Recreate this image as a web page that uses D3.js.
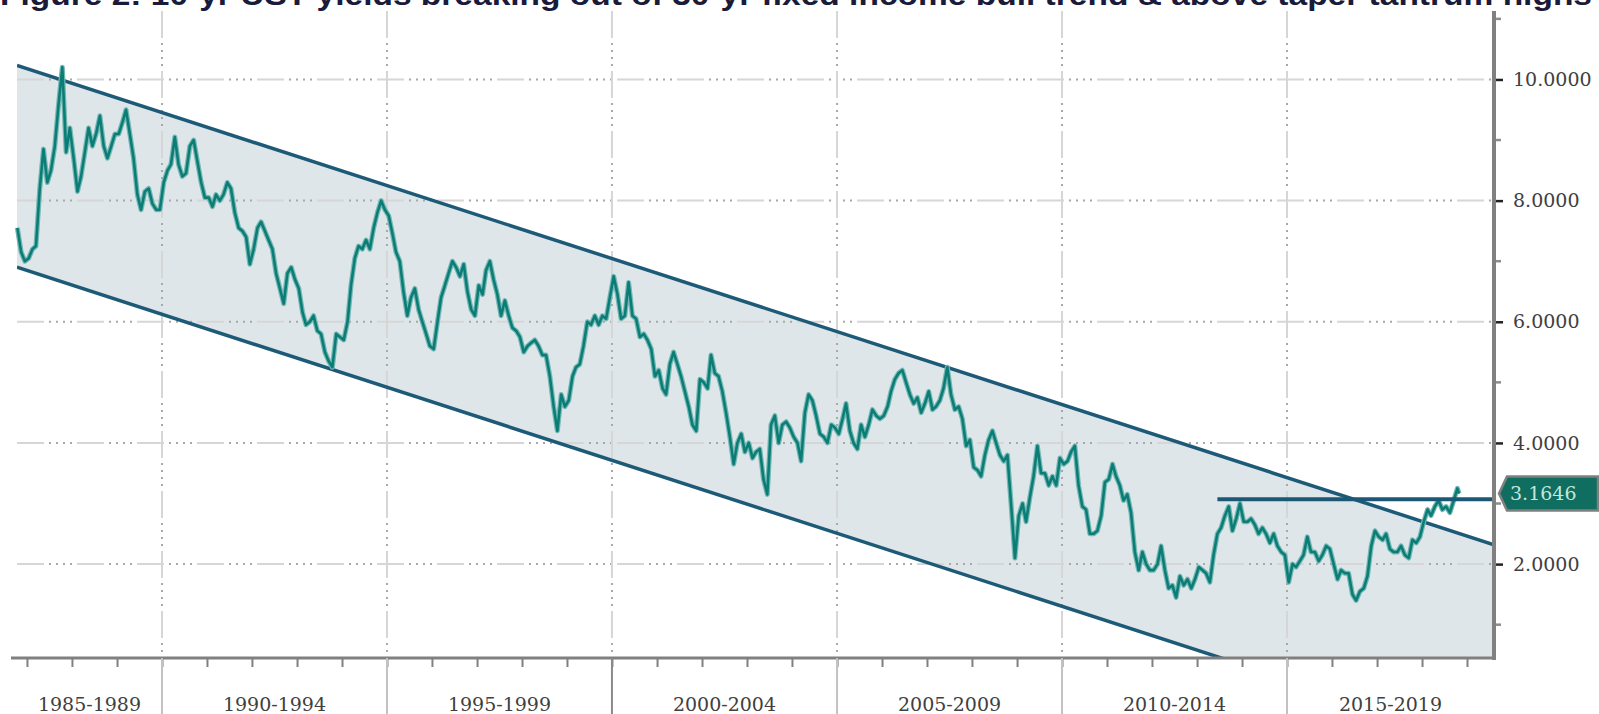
<!DOCTYPE html>
<html>
<head>
<meta charset="utf-8">
<script src="https://cdn.jsdelivr.net/npm/d3@7/dist/d3.min.js"></script>
<style>
  body { margin: 0; background: #fff; }
  svg { display: block; }
</style>
</head>
<body>
<svg id="chart" width="1599" height="714"></svg>
<script>
const title = "Figure 2: 10-yr UST yields breaking out of 30-yr fixed income bull trend & above taper tantrum highs";

// monthly 10-yr UST yield, starting Oct 1986
const firstMonth = new Date(1986, 9, 15);
const yields = [
  7.55, 7.15, 7.0,
  7.05, 7.2, 7.25, 8.2, 8.85, 8.3, 8.5, 8.9, 9.6, 10.2, 8.8, 9.2,
  8.7, 8.15, 8.4, 8.8, 9.2, 8.9, 9.1, 9.4, 8.9, 8.7, 8.9, 9.1,
  9.1, 9.3, 9.5, 9.1, 8.7, 8.1, 7.85, 8.15, 8.2, 7.95, 7.85, 7.85,
  8.3, 8.5, 8.6, 9.05, 8.6, 8.4, 8.45, 8.9, 9.0, 8.65, 8.3, 8.05,
  8.05, 7.9, 8.1, 8.0, 8.1, 8.3, 8.2, 7.8, 7.55, 7.5, 7.4, 6.95,
  7.2, 7.55, 7.65, 7.5, 7.35, 7.2, 6.8, 6.55, 6.3, 6.8, 6.9, 6.7,
  6.55, 6.15, 5.95, 6.0, 6.1, 5.85, 5.8, 5.5, 5.35, 5.25, 5.8, 5.75,
  5.7, 6.0, 6.6, 7.05, 7.25, 7.2, 7.35, 7.2, 7.55, 7.8, 8.0, 7.85,
  7.75, 7.45, 7.15, 7.0, 6.5, 6.1, 6.4, 6.55, 6.2, 6.0, 5.8, 5.6,
  5.55, 6.0, 6.4, 6.6, 6.8, 7.0, 6.9, 6.75, 6.95, 6.5, 6.2, 6.1,
  6.6, 6.45, 6.85, 7.0, 6.7, 6.45, 6.1, 6.35, 6.1, 5.9, 5.85, 5.75,
  5.5, 5.6, 5.65, 5.7, 5.6, 5.45, 5.45, 5.1, 4.6, 4.2, 4.8, 4.6,
  4.7, 5.1, 5.25, 5.3, 5.6, 6.0, 5.95, 6.1, 5.95, 6.1, 6.05, 6.4,
  6.75, 6.45, 6.05, 6.1, 6.65, 6.1, 6.05, 5.75, 5.8, 5.7, 5.55, 5.1,
  5.2, 4.9, 4.8, 5.3, 5.5, 5.3, 5.1, 4.85, 4.6, 4.3, 4.2, 5.05,
  5.0, 4.9, 5.45, 5.15, 5.1, 4.85, 4.5, 4.1, 3.65, 4.0, 4.15, 3.85,
  4.0, 3.75, 3.85, 3.9, 3.4, 3.15, 4.3, 4.45, 4.0, 4.3, 4.35, 4.25,
  4.1, 4.0, 3.7, 4.5, 4.8, 4.7, 4.45, 4.15, 4.1, 4.0, 4.3, 4.25,
  4.15, 4.4, 4.65, 4.2, 4.0, 3.9, 4.3, 4.1, 4.3, 4.55, 4.45, 4.4,
  4.45, 4.6, 4.85, 5.05, 5.15, 5.2, 5.0, 4.8, 4.65, 4.75, 4.5, 4.65,
  4.85, 4.55, 4.6, 4.7, 4.9, 5.25, 4.8, 4.55, 4.6, 4.4, 3.95, 4.05,
  3.6, 3.55, 3.45, 3.8, 4.05, 4.2, 4.0, 3.8, 3.7, 3.8, 2.95, 2.1,
  2.8, 3.0, 2.7, 3.1, 3.45, 3.95, 3.5, 3.5, 3.3, 3.45, 3.3, 3.75,
  3.65, 3.7, 3.85, 3.95, 3.3, 2.95, 2.9, 2.5, 2.5, 2.55, 2.8, 3.35,
  3.4, 3.65, 3.45, 3.3, 3.05, 3.15, 2.85, 2.2, 1.9, 2.2, 2.0, 1.9,
  1.9, 2.0, 2.3, 1.9, 1.6, 1.65, 1.45, 1.8, 1.65, 1.75, 1.6, 1.75,
  1.95, 1.9, 1.85, 1.7, 2.15, 2.5, 2.6, 2.8, 2.95, 2.55, 2.75, 3.0,
  2.7, 2.7, 2.75, 2.65, 2.5, 2.6, 2.5, 2.35, 2.5, 2.3, 2.2, 2.15,
  1.7, 2.0, 1.95, 2.05, 2.15, 2.45, 2.2, 2.2, 2.05, 2.15, 2.3, 2.25,
  2.0, 1.75, 1.9, 1.85, 1.85, 1.5, 1.4, 1.55, 1.6, 1.8, 2.3, 2.55,
  2.45, 2.4, 2.5, 2.25, 2.2, 2.2, 2.3, 2.15, 2.1, 2.4, 2.35, 2.45,
  2.7, 2.9, 2.8, 2.95, 3.05, 2.9, 2.95, 2.85, 3.05, 3.25
];
const lastDate = new Date(2018, 9, 28);
const lastValue = 3.1646;

// taper tantrum high, drawn flat to the axis
const taperStart = new Date(2013, 5, 15);
const taperHigh = 3.07;

// 30-yr bull trend channel
const channelDates = [new Date(1986, 9, 12), new Date(2019, 7, 8)];
const channelUpper = [10.23, 2.32];
const channelLower = [6.90, -1.01];

const majorTicks = [2, 4, 6, 8, 10];
const minorTicks = [1, 3, 5, 7, 9, 11];
const periodStarts = [1985, 1990, 1995, 2000, 2005, 2010, 2015];
const periodLabels = ["1985-1989", "1990-1994", "1995-1999", "2000-2004", "2005-2009", "2010-2014", "2015-2019"];
const yearTicks = d3.range(1987, 2020);

const plot = {left: 17, right: 1494, top: 11, bottom: 658};

const svg = d3.select("#chart");

const x = d3.scaleTime()
    .domain([new Date(1990, 0, 1), new Date(2015, 0, 1)])
    .range([162, 1287]);

const y = d3.scaleLinear()
    .domain([0.45, 11.13])
    .range([plot.bottom, plot.top]);

const series = yields.map((v, i) => ({date: d3.timeMonth.offset(firstMonth, i), value: v}));
series.push({date: lastDate, value: lastValue});

// title, cut off at the top of the picture
svg.append("text")
    .attr("x", 0)
    .attr("y", 5)
    .attr("font-family", "Liberation Sans, Arial, sans-serif")
    .attr("font-weight", "bold")
    .attr("font-size", "29px")
    .attr("fill", "#1a1a3a")
    .attr("textLength", 1592)
    .attr("lengthAdjust", "spacingAndGlyphs")
    .text(title);

svg.append("clipPath")
    .attr("id", "plot-clip")
  .append("rect")
    .attr("x", plot.left)
    .attr("y", plot.top)
    .attr("width", plot.right - plot.left)
    .attr("height", plot.bottom - plot.top);

// channel fill
const channelPoly = [
    [x(channelDates[0]), y(channelUpper[0])],
    [x(channelDates[1]), y(channelUpper[1])],
    [x(channelDates[1]), y(channelLower[1])],
    [x(channelDates[0]), y(channelLower[0])]
];
svg.append("polygon")
    .attr("clip-path", "url(#plot-clip)")
    .attr("points", channelPoly.map(p => p.join(",")).join(" "))
    .attr("fill", "#dfe6e9");

// grid: light dashes + darker dots
function gridLine(g, x1, y1, x2, y2) {
    g.append("line")
        .attr("x1", x1).attr("y1", y1).attr("x2", x2).attr("y2", y2)
        .attr("stroke", "#d6d6d6")
        .attr("stroke-width", 2)
        .attr("stroke-dasharray", "27,33");
    g.append("line")
        .attr("x1", x1).attr("y1", y1).attr("x2", x2).attr("y2", y2)
        .attr("stroke", "#a8a8a8")
        .attr("stroke-width", 2)
        .attr("stroke-dasharray", "2,5,2,5,2,5,2,37")
        .attr("stroke-dashoffset", 28);
}
const grid = svg.append("g");
majorTicks.forEach(v => gridLine(grid, plot.left, y(v), plot.right, y(v)));
periodStarts.slice(1).forEach(yr => gridLine(grid, x(new Date(yr, 0, 1)), plot.top, x(new Date(yr, 0, 1)), plot.bottom));

// channel lines
const channelLine = d3.line().x(d => x(d[0])).y(d => y(d[1]));
[channelUpper, channelLower].forEach(vals => {
    svg.append("path")
        .attr("clip-path", "url(#plot-clip)")
        .attr("d", channelLine(channelDates.map((d, i) => [d, vals[i]])))
        .attr("fill", "none")
        .attr("stroke", "#1d5a78")
        .attr("stroke-width", 3.5);
});

// yield series
const line = d3.line().x(d => x(d.date)).y(d => y(d.value));
svg.append("path")
    .datum(series)
    .attr("d", line)
    .attr("fill", "none")
    .attr("stroke", "#73b8b3")
    .attr("stroke-width", 5)
    .attr("stroke-linejoin", "round");
svg.append("path")
    .datum(series)
    .attr("d", line)
    .attr("fill", "none")
    .attr("stroke", "#0b7d76")
    .attr("stroke-width", 2.6)
    .attr("stroke-linejoin", "round");

// taper tantrum line
svg.append("line")
    .attr("x1", x(taperStart))
    .attr("x2", plot.right)
    .attr("y1", y(taperHigh))
    .attr("y2", y(taperHigh))
    .attr("stroke", "#1b5876")
    .attr("stroke-width", 4);

// bottom axis
const xAxis = svg.append("g")
    .attr("transform", `translate(0,${plot.bottom})`)
    .call(d3.axisBottom(x)
        .tickValues(yearTicks.map(yr => new Date(yr, 0, 1)))
        .tickSize(9)
        .tickFormat(""));
xAxis.select(".domain").remove();
xAxis.selectAll(".tick line").attr("stroke", "#808080").attr("stroke-width", 2);

svg.append("line")
    .attr("x1", 11).attr("x2", plot.right + 2)
    .attr("y1", plot.bottom).attr("y2", plot.bottom)
    .attr("stroke", "#808080")
    .attr("stroke-width", 3);

// period separators below the axis
svg.append("g").selectAll("line")
    .data(periodStarts.slice(1))
    .enter().append("line")
    .attr("x1", d => x(new Date(d, 0, 1)))
    .attr("x2", d => x(new Date(d, 0, 1)))
    .attr("y1", plot.bottom)
    .attr("y2", 714)
    .attr("stroke", d => d === 2000 ? "#8a8a8a" : "#c2c2c2")
    .attr("stroke-width", 2);

svg.append("g").selectAll("text")
    .data(periodStarts)
    .enter().append("text")
    .attr("x", d => {
        const a = Math.max(x(new Date(d, 0, 1)), plot.left);
        const b = Math.min(x(new Date(d + 5, 0, 1)), plot.right);
        return (a + b) / 2;
    })
    .attr("y", 711)
    .attr("text-anchor", "middle")
    .attr("font-family", "DejaVu Serif, serif")
    .attr("font-size", "19px")
    .attr("fill", "#404040")
    .text((d, i) => periodLabels[i]);

// right axis
const yAxis = svg.append("g")
    .attr("transform", `translate(${plot.right},0)`)
    .call(d3.axisRight(y)
        .tickValues(majorTicks)
        .tickSize(9)
        .tickPadding(10)
        .tickFormat(d3.format(".4f")));
yAxis.select(".domain").remove();
yAxis.selectAll(".tick line").attr("stroke", "#222").attr("stroke-width", 2.5);
yAxis.selectAll(".tick text")
    .attr("font-family", "DejaVu Serif, serif")
    .attr("font-size", "19px")
    .attr("fill", "#404040");

svg.append("g").selectAll("line")
    .data(minorTicks)
    .enter().append("line")
    .attr("x1", plot.right)
    .attr("x2", plot.right + 7)
    .attr("y1", d => y(d))
    .attr("y2", d => y(d))
    .attr("stroke", "#8c8c8c")
    .attr("stroke-width", 2.5);

svg.append("line")
    .attr("x1", plot.right).attr("x2", plot.right)
    .attr("y1", plot.top).attr("y2", plot.bottom + 2)
    .attr("stroke", "#808080")
    .attr("stroke-width", 4);

// last value tag
const cy = y(lastValue);
const tag = svg.append("g");
tag.append("polygon")
    .attr("points", [[plot.right + 5, cy], [plot.right + 13, cy - 17], [1598, cy - 17], [1598, cy + 17], [plot.right + 13, cy + 17]]
        .map(p => p.join(",")).join(" "))
    .attr("fill", "#0f6e5f")
    .attr("stroke", "#808080")
    .attr("stroke-width", 2.5);
tag.append("text")
    .attr("x", plot.right + 16)
    .attr("y", cy)
    .attr("dy", "0.36em")
    .attr("font-family", "DejaVu Serif, serif")
    .attr("font-size", "19px")
    .attr("fill", "#c4e6df")
    .text(d3.format(".4f")(lastValue));
</script>
</body>
</html>
